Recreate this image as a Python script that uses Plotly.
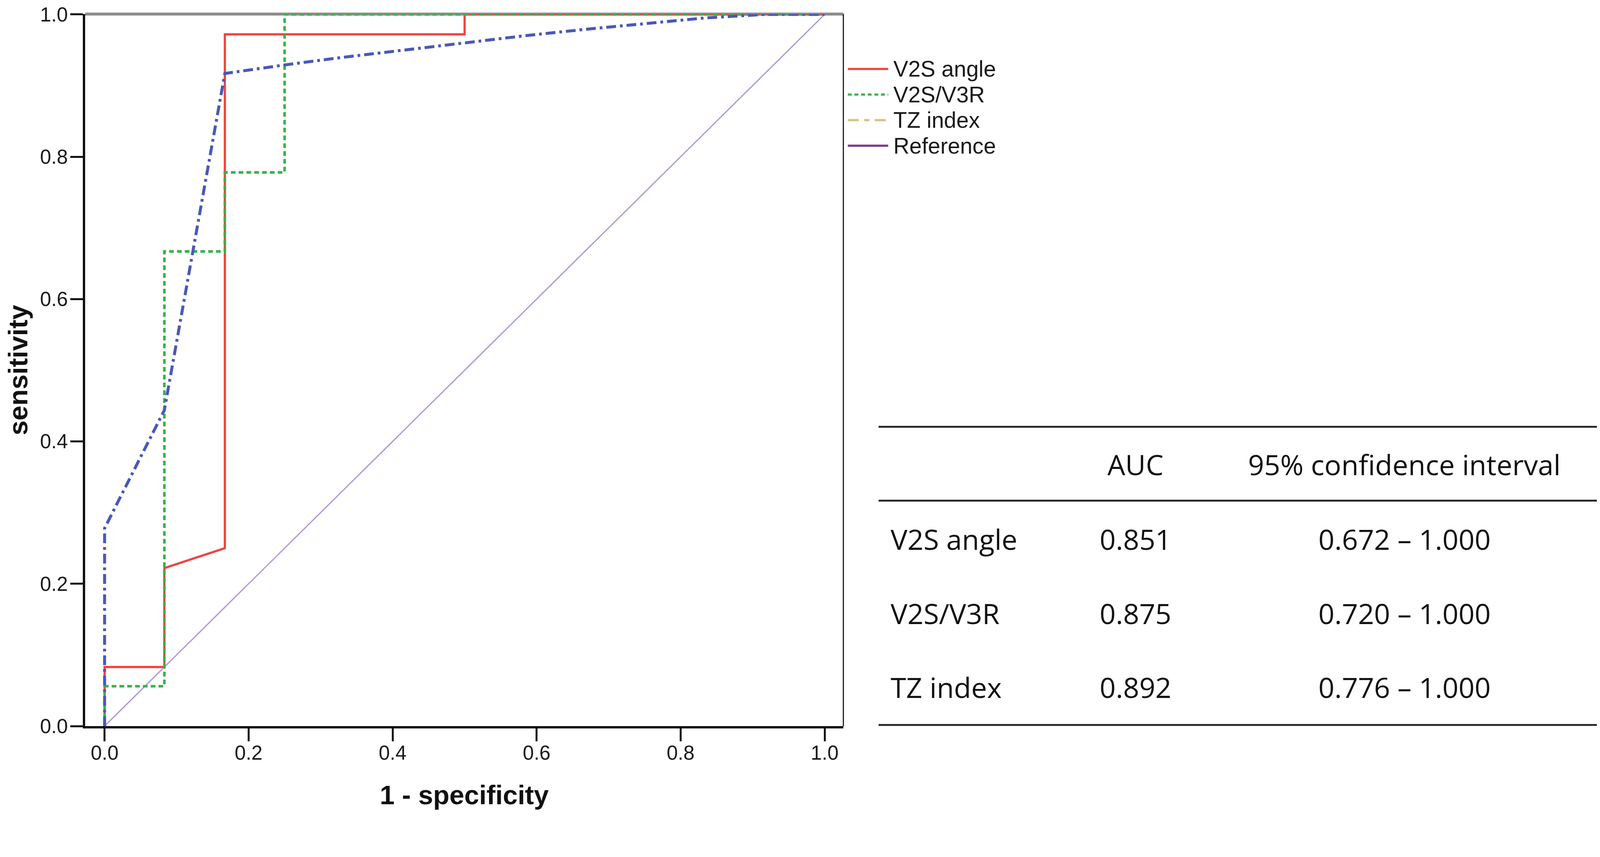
import plotly.graph_objects as go

# ROC curve points (1 - specificity, sensitivity)
v2s_angle_x = [0, 0, 0.083, 0.083, 0.167, 0.167, 0.5, 0.5, 1.0]
v2s_angle_y = [0, 0.083, 0.083, 0.222, 0.25, 0.972, 0.972, 1.0, 1.0]

v2s_v3r_x = [0, 0, 0.083, 0.083, 0.167, 0.167, 0.25, 0.25, 1.0]
v2s_v3r_y = [0, 0.056, 0.056, 0.667, 0.667, 0.778, 0.778, 1.0, 1.0]

tz_index_x = [0, 0, 0.083, 0.167, 0.25, 0.333, 0.417, 0.5, 0.583, 0.667, 0.75, 0.833, 0.917, 1.0]
tz_index_y = [0, 0.278, 0.444, 0.917, 0.929, 0.94, 0.95, 0.96, 0.97, 0.979, 0.987, 0.995, 1.0, 1.0]

reference_x = [0, 1.0]
reference_y = [0, 1.0]

tick_vals = [0.0, 0.2, 0.4, 0.6, 0.8, 1.0]

legend_names = ["V2S angle", "V2S/V3R", "TZ index", "Reference"]

table_header = ["", "AUC", "95% confidence interval"]
table_names = ["V2S angle", "V2S/V3R", "TZ index"]
table_auc = ["0.851", "0.875", "0.892"]
table_ci_low = ["0.672", "0.720", "0.776"]
table_ci_high = ["1.000", "1.000", "1.000"]

# the page is photographed a little zoomed, so work in scaled css pixels
S = 4096 / 4317
W, H = 4080, 2064
L = 230 * S - 8
T = 28
PW = 2045 * S
PH = 1958 * S - 8 - T


def px_x(px):
    return (px * S - 8 - L) / PW


def px_y(py):
    return (T + PH - (py * S - 8)) / PH


def sz(v):
    return v * S


fig = go.Figure()
fig.add_trace(go.Scatter(x=reference_x, y=reference_y, mode="lines",
                         line=dict(color="#b39bd6", width=sz(3.5)), showlegend=False))
fig.add_trace(go.Scatter(x=v2s_angle_x, y=v2s_angle_y, mode="lines",
                         line=dict(color="#ef4444", width=sz(6)), showlegend=False))
fig.add_trace(go.Scatter(x=v2s_v3r_x, y=v2s_v3r_y, mode="lines",
                         line=dict(color="#36b34a", width=sz(7), dash="12px,8px"), showlegend=False))
fig.add_trace(go.Scatter(x=tz_index_x, y=tz_index_y, mode="lines",
                         line=dict(color="#4a58b8", width=sz(8), dash="25px,10px,7px,10px"),
                         showlegend=False))

shapes = []
annotations = []

# frame: grey top line and thin right line
shapes.append(dict(type="line", xref="paper", yref="paper", x0=0, x1=1, y0=1, y1=1,
                   line=dict(color="#8c8c8c", width=sz(8)), layer="below"))
shapes.append(dict(type="line", xref="paper", yref="paper", x0=1, x1=1, y0=0, y1=1,
                   line=dict(color="#111111", width=sz(3)), layer="below"))

# legend drawn beside the plot
legend_colors = ["#ef4444", "#36b34a", "#cfc48e", "#7b3f91"]
legend_dash = ["solid", "10px,7px", "28px,14px,13px,14px", "solid"]
for i, name in enumerate(legend_names):
    yy = px_y(186 + i * 69)
    shapes.append(dict(type="line", xref="paper", yref="paper",
                       x0=px_x(2287), x1=px_x(2396), y0=yy, y1=yy,
                       line=dict(color=legend_colors[i], width=sz(6), dash=legend_dash[i])))
    annotations.append(dict(xref="paper", yref="paper", x=px_x(2408), y=yy, text=name,
                            showarrow=False, xanchor="left", yanchor="middle",
                            font=dict(family="Liberation Sans, Arial", size=sz(60), color="#1a1a1a")))

# AUC table
for py in [1151, 1350, 1955]:
    shapes.append(dict(type="line", xref="paper", yref="paper",
                       x0=px_x(2370), x1=px_x(4309), y0=px_y(py), y1=px_y(py),
                       line=dict(color="#222222", width=sz(5))))

tfont = dict(family="Open Sans", size=sz(76), color="#111111")
annotations.append(dict(xref="paper", yref="paper", x=px_x(3063), y=px_y(1252), text=table_header[1],
                        showarrow=False, xanchor="center", yanchor="middle", font=tfont))
annotations.append(dict(xref="paper", yref="paper", x=px_x(3788), y=px_y(1252), text=table_header[2],
                        showarrow=False, xanchor="center", yanchor="middle", font=tfont))
for i, name in enumerate(table_names):
    yy = px_y(1453 + i * 200)
    annotations.append(dict(xref="paper", yref="paper", x=px_x(2400), y=yy, text=name,
                            showarrow=False, xanchor="left", yanchor="middle", font=tfont))
    annotations.append(dict(xref="paper", yref="paper", x=px_x(3063), y=yy, text=table_auc[i],
                            showarrow=False, xanchor="center", yanchor="middle", font=tfont))
    annotations.append(dict(xref="paper", yref="paper", x=px_x(3788), y=yy,
                            text=table_ci_low[i] + " \u2013 " + table_ci_high[i],
                            showarrow=False, xanchor="center", yanchor="middle", font=tfont))

axis_font = dict(family="Liberation Sans, Arial", size=sz(54), color="#1a1a1a")
title_font = dict(family="Liberation Sans, Arial", size=sz(72), color="#111111")

fig.update_layout(
    width=W, height=H,
    margin=dict(l=L, r=W - L - PW, t=T, b=H - T - PH, pad=0),
    paper_bgcolor="white", plot_bgcolor="white",
    showlegend=False,
    shapes=shapes, annotations=annotations,
    xaxis=dict(range=[-0.027, 1.026], tickvals=tick_vals, tickformat=".1f",
               ticks="outside", ticklen=sz(35), tickwidth=sz(5), tickcolor="#111111",
               showline=True, linecolor="#111111", linewidth=sz(6), automargin=False,
               showgrid=False, zeroline=False, tickfont=axis_font, ticklabelstandoff=-15,
               title=dict(text="<b>1 - specificity</b>", font=title_font, standoff=66)),
    yaxis=dict(range=[0, 1.0005], tickvals=tick_vals, tickformat=".1f",
               ticks="outside", ticklen=sz(34), tickwidth=sz(5), tickcolor="#111111",
               showline=True, linecolor="#111111", linewidth=sz(6), automargin=False,
               showgrid=False, zeroline=False, tickfont=axis_font, ticklabelstandoff=-4,
               ticklabeloverflow="allow",
               title=dict(text="<b>sensitivity</b>", font=title_font, standoff=66)),
)

fig.write_html("out.html")
